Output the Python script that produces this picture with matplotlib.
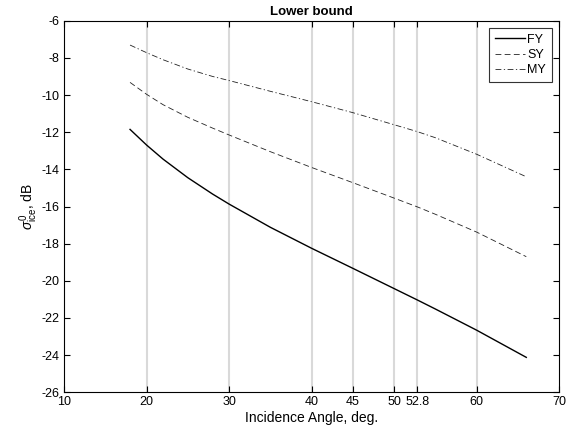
import matplotlib
matplotlib.use("Agg")
import matplotlib.pyplot as plt

plt.rcParams["font.family"] = ["Liberation Sans", "DejaVu Sans"]
plt.rcParams["axes.unicode_minus"] = False
plt.rcParams["mathtext.fontset"] = "custom"
plt.rcParams["mathtext.rm"] = "Liberation Sans"
plt.rcParams["mathtext.it"] = "Liberation Sans:italic"

# incidence angle (deg) and lower-bound sigma0 (dB)
angle = [18, 20, 22, 25, 28, 30, 35, 40, 45, 50, 52.8, 55, 60, 66]
fy = [-11.85, -12.69, -13.45, -14.45, -15.33, -15.87, -17.12, -18.25,
      -19.33, -20.42, -21.03, -21.52, -22.66, -24.12]
sy = [-9.32, -9.96, -10.52, -11.20, -11.78, -12.15, -13.05, -13.90,
      -14.72, -15.55, -16.02, -16.42, -17.38, -18.70]
my = [-7.31, -7.72, -8.10, -8.60, -9.00, -9.22, -9.80, -10.36,
      -10.95, -11.60, -11.97, -12.30, -13.19, -14.40]

ref_angles = [20, 30, 40, 45, 50, 52.8, 60]
xticks = [10, 20, 30, 40, 45, 50, 52.8, 60, 70]
xticklabels = ["10", "20", "30", "40", "45", "50", "52.8", "60", "70"]
yticks = list(range(-26, -5, 2))

fig = plt.figure(figsize=(5.74, 4.37), dpi=100)
ax = fig.add_axes([0.1115, 0.1023, 0.8629, 0.8503])

for a in ref_angles:
    ax.axvline(a, color="#d9d9d9", lw=1.5, zorder=1)

ax.plot(angle, fy, "k-", lw=1.0, label="FY", zorder=3)
ax.plot(angle, sy, color="#222222", ls=(0, (7, 4)), lw=0.6, label="SY", zorder=3)
ax.plot(angle, my, color="#222222", ls=(0, (7, 3, 1.5, 3)), lw=0.6, label="MY", zorder=3)

ax.set_xlim(10, 70)
ax.set_ylim(-26, -6)
ax.set_xticks(xticks)
ax.set_xticklabels(xticklabels)
ax.set_yticks(yticks)
ax.tick_params(direction="in", top=True, right=True, labelsize=9, length=4,
               width=0.8, pad=3)
for s in ax.spines.values():
    s.set_linewidth(0.8)

ax.set_title("Lower bound", fontsize=9.5, fontweight="bold", pad=4)
ax.set_xlabel("Incidence Angle, deg.", fontsize=10, labelpad=2)
ax.set_ylabel(r"$\sigma^0_{\mathrm{ice}}$, dB", fontsize=10, labelpad=1)

leg = ax.legend(loc="upper right", fontsize=9, fancybox=False, framealpha=1,
                edgecolor="#333333", handlelength=2.4, borderaxespad=0.6,
                labelspacing=0.25, handletextpad=0.2, borderpad=0.45)
leg.get_frame().set_linewidth(0.8)

fig.savefig("out.png", dpi=100)
